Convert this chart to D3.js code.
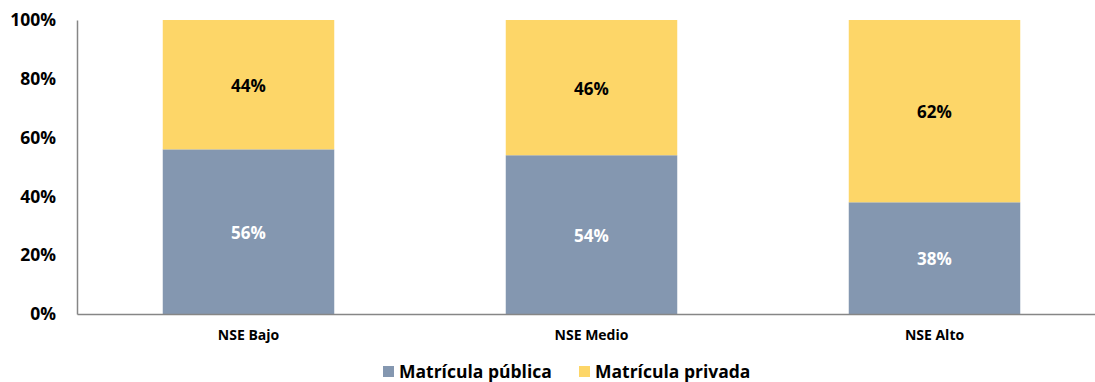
<!DOCTYPE html>
<html>
<head>
<meta charset="utf-8">
<script src="https://cdn.jsdelivr.net/npm/d3@7"></script>
<style>
  html, body { margin: 0; padding: 0; background: #fff; }
  svg { display: block; font-family: "Open Sans", Lato, sans-serif; font-weight: bold; }
  svg text { font-family: "Open Sans", Lato, sans-serif; font-weight: bold; }
</style>
</head>
<body>
<svg id="chart" width="1095" height="382"></svg>
<script>
// Enrolment share by socioeconomic level
const categories = ["NSE Bajo", "NSE Medio", "NSE Alto"];
const seriesNames = ["Matrícula pública", "Matrícula privada"];
const publica = [56, 54, 38];
const privada = [44, 46, 62];
const yTicks = [0, 20, 40, 60, 80, 100];
const colors = ["#8497B0", "#FDD668"];
const labelColors = ["#ffffff", "#000000"];

const svg = d3.select("#chart");
const x = d3.scaleBand().domain(categories).range([77, 1106]).paddingInner(0.5).paddingOuter(0.25);
const y = d3.scaleLinear().domain([0, 100]).range([314, 20]);

const rows = categories.map((c, i) => ({ cat: c, publica: publica[i], privada: privada[i] }));
const stacked = d3.stack().keys(["publica", "privada"])(rows);

// Bars and their value labels
stacked.forEach((layer, k) => {
  svg.append("g").selectAll("rect").data(layer).join("rect")
    .attr("x", d => x(d.data.cat))
    .attr("width", x.bandwidth())
    .attr("y", d => y(d[1]))
    .attr("height", d => y(d[0]) - y(d[1]))
    .attr("fill", colors[k]);
  svg.append("g").selectAll("text").data(layer).join("text")
    .attr("x", d => x(d.data.cat) + x.bandwidth() / 2)
    .attr("y", d => (y(d[0]) + y(d[1])) / 2 + 1)
    .attr("dy", "0.35em")
    .attr("text-anchor", "middle")
    .attr("font-size", 17)
    .attr("fill", labelColors[k])
    .text(d => (d[1] - d[0]) + "%");
});

// Y axis
const yAxis = svg.append("g").attr("transform", "translate(77,0)")
  .call(d3.axisLeft(y).tickValues(yTicks).tickFormat(d => d + "%").tickSize(0).tickPadding(21));
yAxis.select(".domain").attr("stroke", "#868686").attr("stroke-width", 1.5);
yAxis.selectAll("text").attr("font-size", 17.5).attr("fill", "#000");

// X axis
const xAxis = svg.append("g").attr("transform", "translate(0,314)")
  .call(d3.axisBottom(x).tickSize(0).tickPadding(16));
xAxis.select(".domain").attr("stroke", "#868686").attr("stroke-width", 1.5);
xAxis.selectAll("text").attr("font-size", 14).attr("fill", "#000");

// Legend
const legendX = [383, 579];
const legend = svg.append("g");
seriesNames.forEach((name, i) => {
  legend.append("rect").attr("x", legendX[i]).attr("y", 366).attr("width", 11).attr("height", 11).attr("fill", colors[i]);
  legend.append("text").attr("x", legendX[i] + 16).attr("y", 372).attr("dy", "0.35em")
    .attr("font-size", 17.5).attr("fill", "#000").text(name);
});
</script>
</body>
</html>
